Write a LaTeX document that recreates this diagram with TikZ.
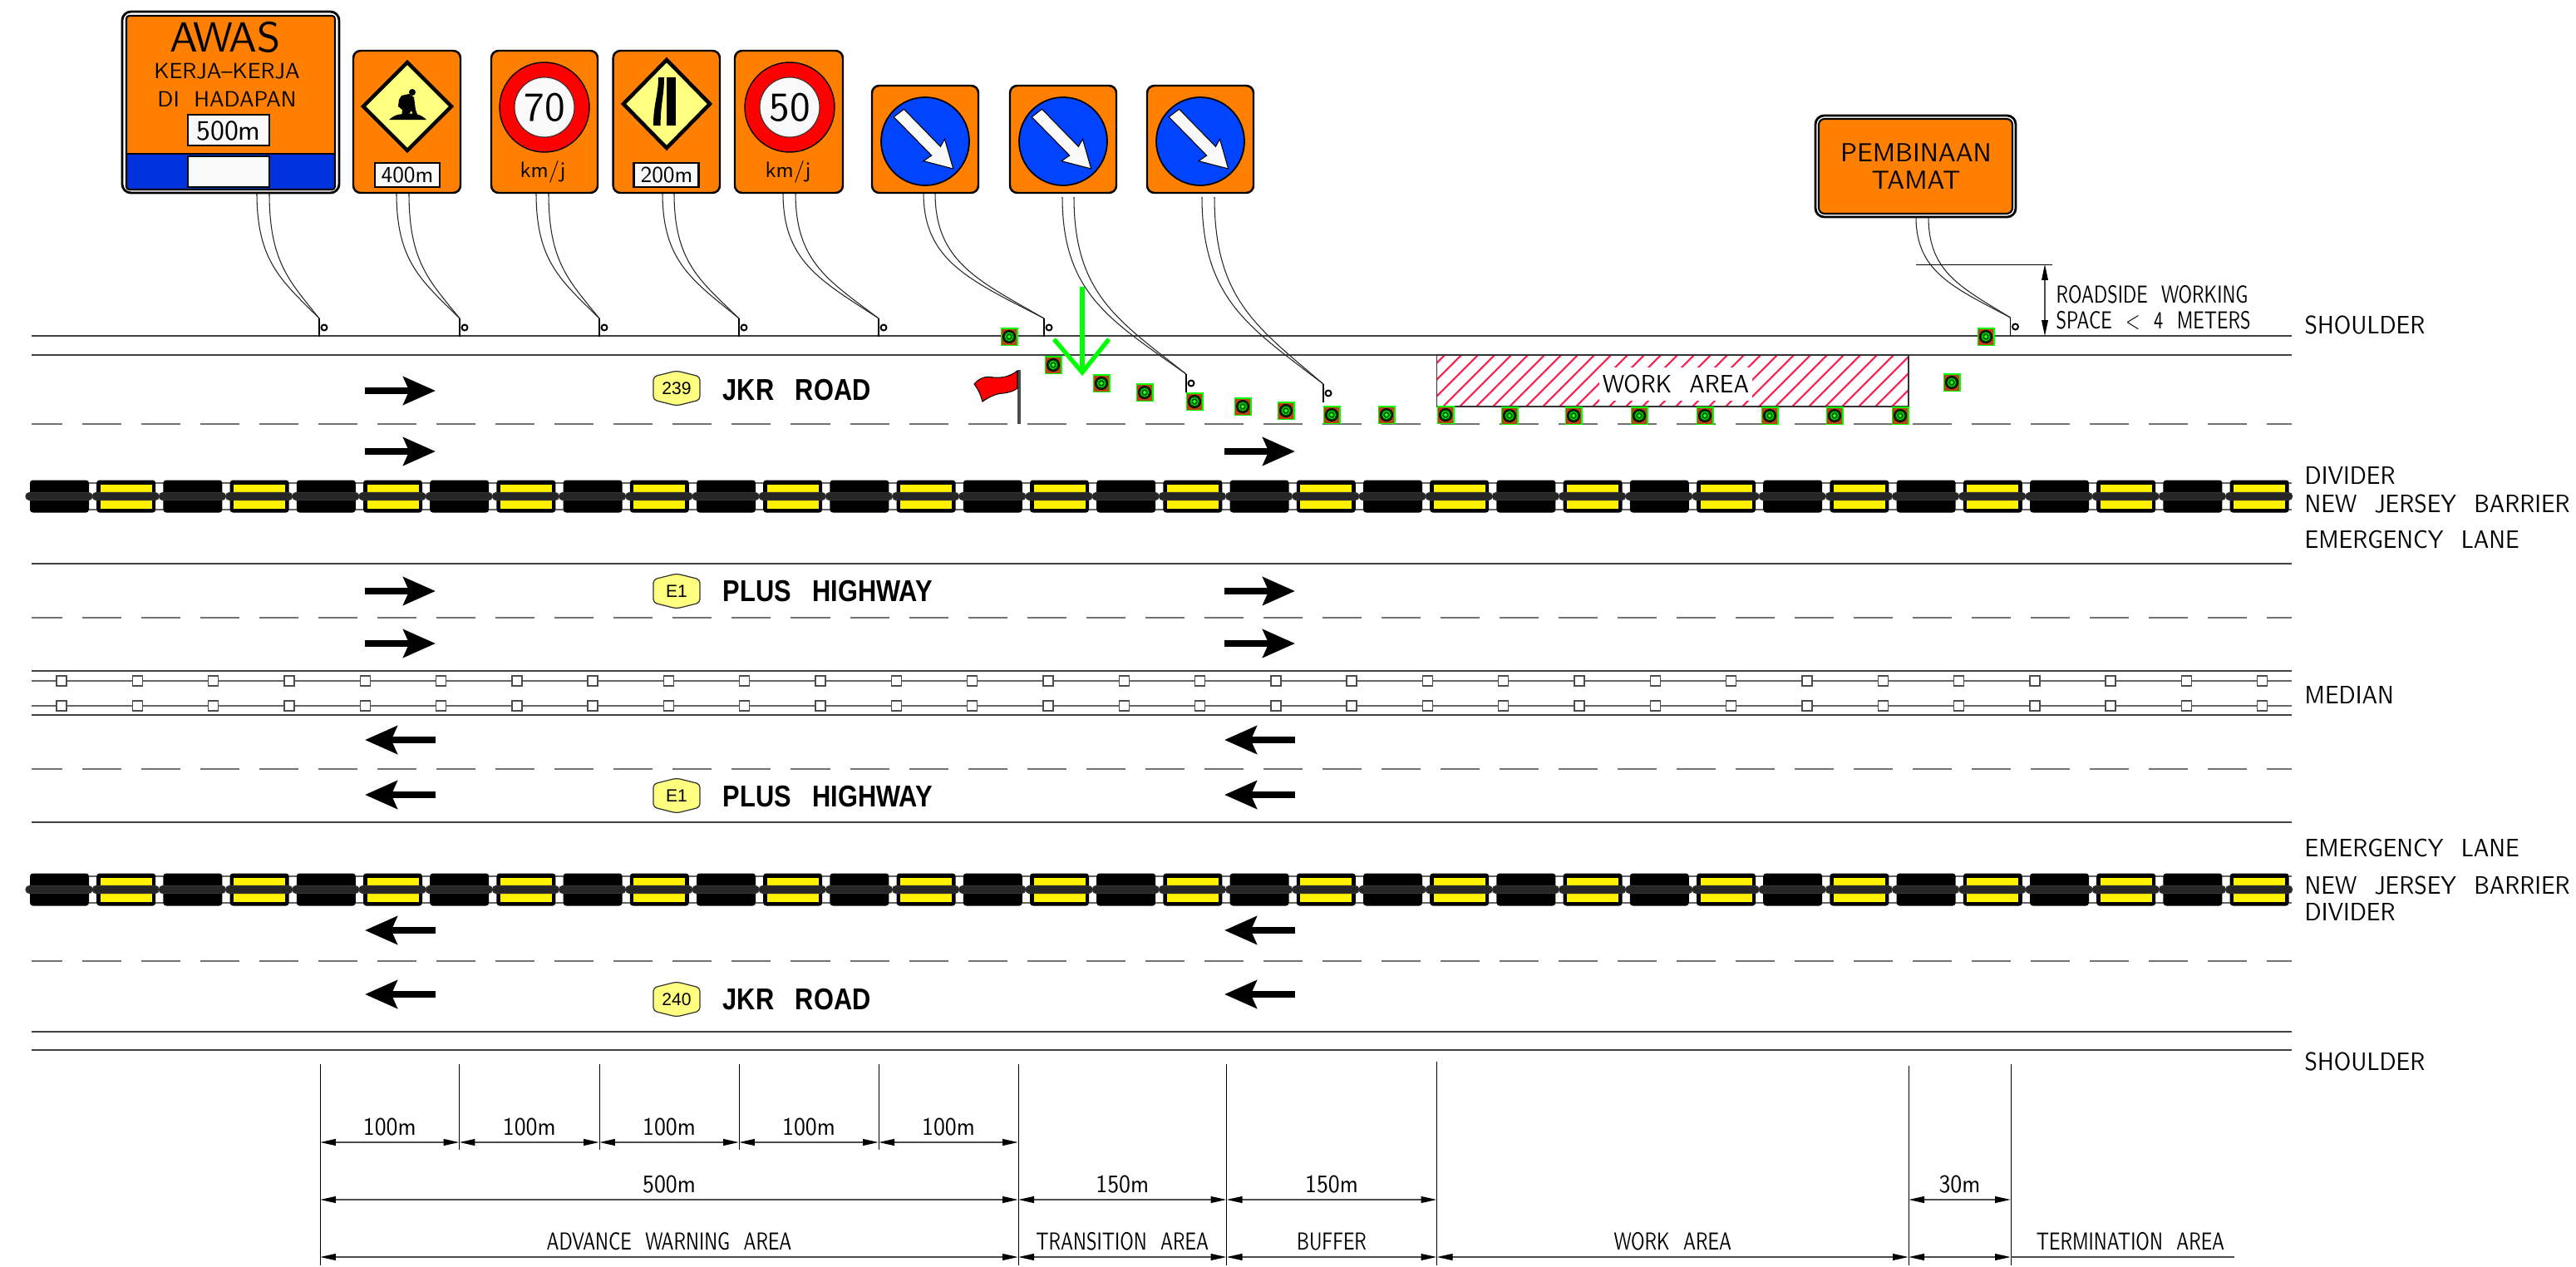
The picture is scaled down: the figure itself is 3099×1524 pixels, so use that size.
\documentclass[tikz,border=0pt]{standalone}
\usepackage{fontspec}
\usetikzlibrary{arrows.meta}
\newfontfamily\signfont[WordSpace=2]{lmsans10-regular.otf}
\newfontfamily\cadfont[FakeStretch=0.92,WordSpace=2.3]{lmsans10-regular.otf}
\newfontfamily\narrowfont[FakeStretch=0.76,WordSpace=2.2]{lmsans10-regular.otf}
\newfontfamily\roadfont[FakeStretch=0.85,WordSpace=3]{Liberation Sans}
\newfontfamily\shieldfont{Liberation Sans}
\definecolor{signorange}{HTML}{FF8000}
\definecolor{signblue}{HTML}{0033DD}
\definecolor{discblue}{HTML}{0044FF}
\definecolor{paleyellow}{HTML}{FFFF80}
\definecolor{signwhite}{HTML}{F9F9F9}
\definecolor{conered}{HTML}{B84410}
\definecolor{hatchred}{HTML}{FF1F50}
\tikzset{
  signtext/.style={inner sep=0pt, font=\signfont\fontsize{#1}{#1}\selectfont},
  cadtext/.style={inner sep=0pt, font=\cadfont\fontsize{8.6}{8.6}\selectfont},
  areatext/.style={inner sep=0pt, font=\narrowfont\fontsize{8.4}{8.4}\selectfont},
  roadtext/.style={inner sep=0pt, anchor=west, font=\roadfont\bfseries\fontsize{10.3}{10.3}\selectfont},
  roadline/.style={draw=black!75, line width=0.6pt},
  laneline/.style={draw=black!55, line width=0.6pt, dash pattern=on 13.37pt off 6.83pt, dash phase=2.84pt},
  railline/.style={draw=black!60, line width=0.5pt},
  signbox/.style={draw=black, line width=0.7pt, fill=signorange, rounded corners=2.5pt},
  framebox/.style={draw=black, line width=0.8pt, fill=white, rounded corners=3pt},
  distbox/.style={draw=black, line width=0.7pt, fill=signwhite},
  warndiamond/.style={draw=black, line width=1.3pt, fill=paleyellow},
  stemline/.style={draw=black!85, line width=0.3pt},
  postline/.style={draw=black, line width=0.55pt},
  dimline/.style={draw=black!70, line width=0.5pt, {Triangle[length=5.4pt,width=2.2pt,black]}-{Triangle[length=5.4pt,width=2.2pt,black]}},
  dimtick/.style={draw=black, line width=0.25pt},
  trafficarrow/.style={draw=black, line width=2.5pt, -{Stealth[length=11pt,width=9.5pt,inset=2pt]}},
  cone/.pic={
    \fill[green] (-10.5,-11) rectangle (10.5,11);
    \fill[conered] (-9,-9.5) rectangle (9,9.5);
    \fill[black] (0,0) circle[radius=8];
    \fill[black!70!green] (0,0) circle[radius=6.5];
    \draw[green, line width=0.25pt] (0,0) circle[radius=4.5];
    \fill[green] (0,0) circle[radius=2];
    \fill[white] (0,0) circle[radius=0.6];
  }
}
\begin{document}
\begin{tikzpicture}[x=0.01cm, y=-0.01cm]
  \useasboundingbox (0,0) rectangle (3099,1524);
  \clip (0,0) rectangle (3099,1524);
  \fill[white] (0,0) rectangle (3099,1524);

  \foreach \y in {404,427,678,807,860,989,1241,1263}
    \draw[roadline] (38,\y) -- (2757,\y);
  \foreach \y in {510,743,925,1156}
    \draw[laneline] (38,\y) -- (2757,\y);

  \foreach \y in {819,849} {
    \draw[railline] (38,\y) -- (2757,\y);
    \foreach \i in {0,...,29}
      \draw[black!70, fill=white, line width=0.4pt] (68+91.3*\i,\y-6) rectangle (80+91.3*\i,\y+6);
  }

  \foreach \by in {597,1070} {
    \draw[railline] (36,\by-16) -- (2757,\by-16);
    \draw[railline] (36,\by+16) -- (2757,\by+16);
    \foreach \i in {0,...,33} {
      \begin{scope}[shift={(36+80.2*\i,\by)}]
        \fill[black, rounded corners=1pt] (0,-19.5) rectangle (71,19.5);
        \ifodd\i
          \fill[yellow] (4.5,-14) rectangle (66.5,-4);
          \fill[yellow] (4.5,5) rectangle (66.5,15);
        \fi
        \draw[black!80, fill=black!85, line width=0.3pt, rounded corners=1.2pt] (-5,-4.5) rectangle (75,4.5);
      \end{scope}
    }
  }

  \foreach \xa/\xb/\y in {439/524/470,439/524/543,1473/1558/543,439/524/711,1473/1558/711,439/524/774,1473/1558/774}
    \draw[trafficarrow] (\xa,\y) -- (\xb,\y);
  \foreach \xa/\xb/\y in {439/524/890,1473/1558/890,439/524/956,1473/1558/956,439/524/1119,1473/1558/1119,439/524/1196,1473/1558/1196}
    \draw[trafficarrow] (\xb,\y) -- (\xa,\y);

  \foreach \n/\y/\t in {a/467/239,b/711/E1,c/957/E1,d/1202/240} {
    \begin{scope}[shift={(814,\y)}]
      \draw[draw=black!80, fill=paleyellow, line width=0.35pt, rounded corners=1.2pt] (-28,-14) -- (0,-21) -- (28,-14) -- (28,14) -- (0,21) -- (-28,14) -- cycle;
      \node[name=shield\n, inner sep=0pt, font=\shieldfont\fontsize{6}{6}\selectfont] at (0,0) {\t};
    \end{scope}
  }
  \node[roadtext, name=jkrupper] at (869,469) {JKR ROAD};
  \node[roadtext, name=plusupper] at (869,711) {PLUS HIGHWAY};
  \node[roadtext, name=pluslower] at (869,958) {PLUS HIGHWAY};
  \node[roadtext, name=jkrlower] at (869,1202) {JKR ROAD};

  \fill[white] (1728.5,427) rectangle (2296,489);
  \begin{scope}
    \clip (1728.5,427) rectangle (2296,489);
    \foreach \i in {0,...,31}
      \draw[hatchred, line width=0.6pt] (1738+20*\i,427) -- (1676+20*\i,489);
  \end{scope}
  \draw[black!80, line width=0.5pt] (1728.5,427) rectangle (2296,489);
  \node[cadtext, name=workzone, fill=white, inner xsep=1pt, inner ysep=2.5pt] at (2016,462) {WORK AREA};

  \draw[black!70, line width=0.9pt] (1226,445) -- (1226,510);
  \draw[fill=red, line width=0.3pt] (1224,446) .. controls (1215,453) and (1205,455) .. (1195,454)
    .. controls (1185,452) and (1178,455) .. (1172,462) .. controls (1178,470) and (1180,476) .. (1182,483)
    .. controls (1190,477) and (1200,473) .. (1207,473) .. controls (1215,472) and (1220,470) .. (1224,467) -- cycle;

  \foreach \x/\y in {1214/405,1267/439,1325/461,1377/472,1437/483,1495/489,1547/494,1602/499,1668/499,1739/499,
    1816/500,1893/500,1972/500,2051/500,2129/500,2207/500,2286/500,2348/460,2389/405}
    \pic at (\x,\y) {cone};

  \draw[green, line width=1.5pt] (1302,345) -- (1302,448);
  \draw[green, line width=1.5pt] (1268,408) -- (1302,448) -- (1334,408);

  \foreach \xa/\xb/\ys/\xe/\ye in {309/324/232/384/383,477/492/232/553/383,645/660/232/721/383,797/811/232/889/383,
    942/957/232/1057/383,1111/1125/232/1256/383,1278/1292/237/1427/450,1446/1461/237/1592/462,2305/2320/261/2418.5/382} {
    \draw[stemline] (\xa,\ys) .. controls (\xa,\ys+0.55*\ye-0.55*\ys) and (0.4*\xe+0.6*\xa,0.7*\ye+0.3*\ys) .. (\xe,\ye);
    \draw[stemline] (\xb,\ys) .. controls (\xb,\ys+0.55*\ye-0.55*\ys) and (0.4*\xe+0.6*\xb,0.7*\ye+0.3*\ys) .. (\xe,\ye);
    \draw[postline] (\xe,\ye) -- (\xe,\ye+22);
    \draw[postline, fill=white] (\xe+6,\ye+11) circle[radius=3.5];
  }

  \draw[framebox] (147,14) rectangle (408,232);
  \fill[signorange] (152,19) rectangle (403,185);
  \fill[signblue] (152,185) rectangle (403,228);
  \draw[black, line width=0.6pt, rounded corners=1pt] (152,19) rectangle (403,228);
  \draw[black, line width=0.5pt] (152,185) -- (403,185);
  \node[signtext=14.4, name=awas] at (271,45) {AWAS};
  \node[signtext=7.5, name=kerja] at (273,86) {KERJA–KERJA};
  \node[signtext=7.5, name=hadapan] at (273,119) {DI HADAPAN};
  \draw[distbox] (226,138) rectangle (324,175);
  \node[signtext=9.6, name=dist500] at (275,157) {500m};
  \draw[distbox] (226,188) rectangle (324,225);

  \draw[signbox] (425,61) rectangle (554,232);
  \draw[warndiamond] (490,75) -- (543,128) -- (490,181) -- (437,128) -- cycle;
  \fill[black] (496,111) circle[radius=4];
  \fill[black] (480,120) -- (483,115) -- (492,113) -- (498,117) -- (500,132) -- (503,140) -- (498,141) -- (495,133) -- (490,140) -- (483,141) -- (484,132) -- (479,128) -- cycle;
  \fill[black] (468,144) .. controls (476,137) and (482,137) .. (490,137) .. controls (498,136) and (506,137) .. (513,144) -- cycle;
  \draw[distbox] (451,196) rectangle (529,225);
  \node[signtext=7.8, name=dist400] at (490,211) {400m};

  \draw[signbox] (737.6,61) rectangle (866,232);
  \draw[warndiamond] (802,72) -- (854,125) -- (802,178) -- (750,125) -- cycle;
  \fill[black] (802,93) rectangle (813,151);
  \fill[black] (792,93) -- (799,93) .. controls (799,115) and (794.6,125) .. (794.6,151) -- (786,151) .. controls (786,125) and (792,115) .. (792,93) -- cycle;
  \draw[distbox] (762.5,196) rectangle (840.6,225);
  \node[signtext=7.8, name=dist200] at (802,211) {200m};

  \foreach \xl/\xr/\cx/\t in {591/719/655/70,884/1014/950/50} {
    \draw[signbox] (\xl,61) rectangle (\xr,232);
    \draw[black, line width=0.4pt, fill=red] (\cx,129) circle[radius=54];
    \draw[black!80, line width=0.3pt, fill=signwhite] (\cx,129) circle[radius=36];
    \node[signtext=14, name=limit\t] at (\cx,129) {\t};
    \node[signtext=7.6, name=kmj\t] at (\cx-2,207) {km/j};
  }

  \foreach \cx in {1113,1279,1444} {
    \begin{scope}[shift={(\cx,170)}]
      \draw[signbox] (-64,-67) rectangle (64,62);
      \draw[black, line width=0.5pt, fill=discblue] (0,0) circle[radius=53];
      \draw[black, line width=0.3pt, fill=signwhite] (-37.8,-29.3) -- (-25.5,-38.7) -- (18.4,6.3) -- (23.5,-2.7) -- (33.7,33) -- (-2,23.7) -- (7.7,17) -- cycle;
    \end{scope}
  }

  \draw[framebox] (2184,139) rectangle (2425,261);
  \draw[black, line width=0.6pt, fill=signorange, rounded corners=2pt] (2188,143) rectangle (2421,257);
  \node[signtext=8.9, name=pembinaan] at (2305,184) {PEMBINAAN};
  \node[signtext=8.9, name=tamat] at (2305,217) {TAMAT};

  \coordinate (clearancetop) at (2460,318);
  \coordinate (clearancebase) at (2460,404);
  \draw[dimtick] (2305,318) -- (2469,318);
  \draw[dimline, line width=0.3pt] (clearancetop) -- (clearancebase);
  \node[areatext, anchor=west, name=roadside] at (2473,354) {ROADSIDE WORKING};
  \node[areatext, anchor=west, name=space] at (2473,386) {SPACE < 4 METERS};

  \foreach \n/\y/\t in {a/391/SHOULDER,b/572/DIVIDER,c/606/NEW JERSEY BARRIER,d/649/EMERGENCY LANE,e/836/MEDIAN,
    f/1020/EMERGENCY LANE,g/1065/NEW JERSEY BARRIER,h/1097/DIVIDER,i/1277/SHOULDER}
    \node[cadtext, anchor=west, name=side\n] at (2772,\y) {\t};

  \foreach \x in {552.5,721,889,1057}
    \draw[dimtick] (\x,1280) -- (\x,1383);
  \foreach \x/\ys in {385/1280,1225/1280,1475.5/1280,1728.5/1277,2296/1282,2419/1280}
    \draw[dimtick] (\x,\ys) -- (\x,1522);
  \foreach \n/\x in {a/385,b/552.5,c/721,d/889,e/1057,f/1225,g/1475.5,h/1728.5,i/2296,j/2419} {
    \coordinate (rowa\n) at (\x,1374);
    \coordinate (rowb\n) at (\x,1443);
    \coordinate (rowc\n) at (\x,1512);
  }
  \coordinate (rowcend) at (2688,1512);
  \foreach \p/\q in {a/b,b/c,c/d,d/e,e/f}
    \draw[dimline] (rowa\p) -- node[cadtext, above=2pt, name=dima\p] {100m} (rowa\q);
  \foreach \p/\q/\t in {a/f/500m,f/g/150m,g/h/150m,i/j/30m}
    \draw[dimline] (rowb\p) -- node[cadtext, above=2pt, name=dimb\p] {\t} (rowb\q);
  \foreach \p/\q/\t in {a/f/ADVANCE WARNING AREA,f/g/TRANSITION AREA,g/h/BUFFER,h/i/WORK AREA}
    \draw[dimline] (rowc\p) -- node[areatext, above=2pt, name=dimc\p] {\t} (rowc\q);
  \draw[dimline] (rowci) -- (rowcj);
  \draw[draw=black!70, line width=0.5pt] (rowcj) -- (rowcend);
  \node[areatext, name=termination] at (2563,1493) {TERMINATION AREA};
  \node[areatext, name=bufferarea] at (1603,1535) {AREA};
\end{tikzpicture}
\end{document}
